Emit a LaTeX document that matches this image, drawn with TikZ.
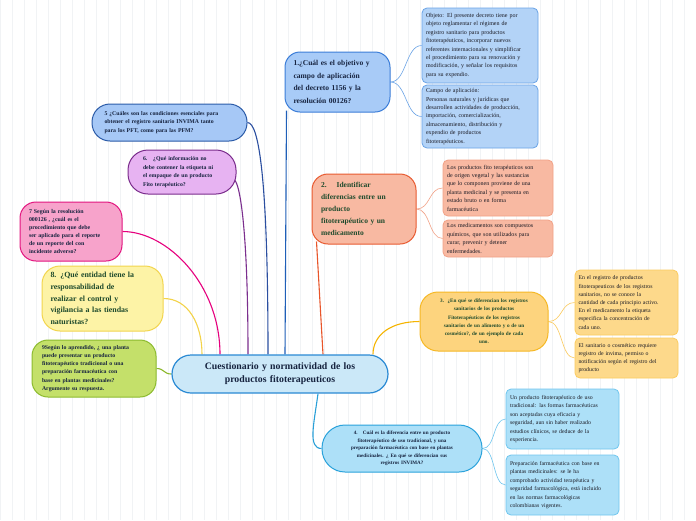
\documentclass[tikz,border=0pt]{standalone}
\usepackage{fontspec}
\setmainfont{Liberation Serif}
\usetikzlibrary{calc}
\pgfdeclarelayer{gridl}\pgfdeclarelayer{linel}
\pgfsetlayers{gridl,linel,main}
\definecolor{gridc}{HTML}{F1F3F5}
\definecolor{txt}{HTML}{16233F}
\definecolor{txtb}{HTML}{1A1A24}
\definecolor{txtg}{HTML}{1E4A2C}
\definecolor{cF}{HTML}{CBE8F8}\definecolor{cD}{HTML}{2A8AD4}
\definecolor{aF}{HTML}{A8CBF7}\definecolor{aD}{HTML}{3B7DD8}
\definecolor{abF}{HTML}{B3D3F7}\definecolor{abD}{HTML}{6AA3E6}
\definecolor{fF}{HTML}{A6C8F6}\definecolor{fD}{HTML}{2B5BA8}
\definecolor{sF}{HTML}{E7B3F2}\definecolor{sD}{HTML}{7A2C8C}
\definecolor{pF}{HTML}{F7A3CB}\definecolor{pD}{HTML}{E2157F}
\definecolor{yF}{HTML}{FDF3A6}\definecolor{yD}{HTML}{F2D54E}
\definecolor{gF}{HTML}{C4E06A}\definecolor{gD}{HTML}{8CBB2E}
\definecolor{oF}{HTML}{F8B9A2}\definecolor{oD}{HTML}{E85A30}\definecolor{obD}{HTML}{F2A287}
\definecolor{qF}{HTML}{FDD47E}\definecolor{qD}{HTML}{F6B825}
\definecolor{qbF}{HTML}{FDD98B}\definecolor{qbD}{HTML}{FBCB5F}
\definecolor{lF}{HTML}{ADE0F8}\definecolor{lD}{HTML}{2AA2DB}\definecolor{lbD}{HTML}{6FC6EE}
\definecolor{l1}{HTML}{1F5FB8}\definecolor{l5}{HTML}{2B4FA0}\definecolor{l6}{HTML}{7B2F8E}
\definecolor{l7}{HTML}{E6007E}\definecolor{l8}{HTML}{F3D34A}\definecolor{l9}{HTML}{8CB82C}
\definecolor{l2}{HTML}{E8552A}\definecolor{l3}{HTML}{F5B400}\definecolor{l4}{HTML}{2AA0D8}
\begin{document}
\begin{tikzpicture}[x=1pt,y=-1pt,
  qbox/.style={rectangle, line width=1pt, inner sep=3pt, align=left, text=txt},
  cbox/.style={rectangle, line width=0.8pt, rounded corners=5pt, inner sep=3pt, align=left, text=txtb,
     font=\fontsize{6}{8.4}\selectfont},
  conn/.style={line width=1.1pt},
  sub/.style={line width=0.6pt}]
\useasboundingbox (0,0) rectangle (696,520);
\begin{pgfonlayer}{gridl}
\fill[white] (0,0) rectangle (696,520);
\draw[gridc, line width=0.3pt, step=12] (0,0) grid (696,520);
\end{pgfonlayer}

% center
\node[qbox, fill=cF, draw=cD, line width=1.2pt, rounded corners=19pt, minimum width=216pt, minimum height=38pt,
  text width=200pt, align=center, font=\bfseries\fontsize{9.8}{13}\selectfont] (c) at (280,374)
  {Cuestionario y normatividad de los\\ productos fitoterapeuticos};

% node 1
\node[qbox, fill=aF, draw=aD, rounded corners=15pt, minimum width=105pt, minimum height=60pt,
  text width=88pt, font=\bfseries\fontsize{7.5}{12.5}\selectfont] (n1) at (337.5,82)
  {1.¿Cuál es el objetivo y\\ campo de aplicación\\ del decreto 1156 y la\\ resolución 00126?};
\node[cbox, fill=abF, draw=abD, minimum width=116pt, minimum height=75pt, text width=108pt] (b1a) at (480,45.5)
  {Objeto: El presente decreto tiene por\\ objeto reglamentar el régimen de\\ registro sanitario para productos\\ fitoterapéuticos, incorporar nuevos\\ referentes internacionales y simplificar\\ el procedimiento para su renovación y\\ modificación, y señalar los requisitos\\ para su expendio.};
\node[cbox, fill=abF, draw=abD, minimum width=116pt, minimum height=63pt, text width=108pt] (b1b) at (480,116.5)
  {Campo de aplicación:\\ Personas naturales y jurídicas que\\ desarrollen actividades de producción,\\ importación, comercialización,\\ almacenamiento, distribución y\\ expendio de productos\\ fitoterapéuticos.};

% node 5
\node[qbox, fill=fF, draw=fD, rounded corners=18pt, minimum width=155pt, minimum height=37pt,
  text width=130pt, font=\bfseries\fontsize{5.8}{8.8}\selectfont] (n5) at (169.5,122.5)
  {5 ¿Cuáles son las condiciones esenciales para\\ obtener el registro sanitario INVIMA tanto\\ para los PFT, como para las PFM?};

% node 6
\node[qbox, fill=sF, draw=sD, rounded corners=20pt, minimum width=108pt, minimum height=44pt,
  text width=78pt, font=\bfseries\fontsize{5.8}{8.4}\selectfont] (n6) at (182,172)
  {6.\ \ \ ¿Qué información no\\ debe contener la etiqueta ni\\ el empaque de un producto\\ Fito terapéutico?};

% node 7
\node[qbox, fill=pF, draw=pD, rounded corners=16pt, minimum width=102pt, minimum height=59pt,
  text width=84pt, font=\bfseries\fontsize{5.9}{8}\selectfont] (n7) at (71,231.5)
  {7 Según la resolución\\ 000126 , ¿cuál es el\\ procedimiento que debe\\ ser aplicado para el reporte\\ de un reporte del con\\ incidente adverso?};

% node 8
\node[qbox, fill=yF, draw=yD, rounded corners=18pt, minimum width=121pt, minimum height=65pt,
  text width=104pt, text=txtg, font=\bfseries\fontsize{7.9}{11.8}\selectfont] (n8) at (102.5,298.5)
  {8. ¿Qué entidad tiene la\\ responsabilidad de\\ realizar el control y\\ vigilancia a las tiendas\\ naturistas?};

% node 9
\node[qbox, fill=gF, draw=gD, rounded corners=16pt, minimum width=124pt, minimum height=57pt,
  text width=104pt, font=\bfseries\fontsize{5.8}{8.1}\selectfont] (n9) at (94,368.5)
  {9Según lo aprendido, ¿ una planta\\ puede presentar un producto\\ fitoterapéutico tradicional o una\\ preparación farmacéutica con\\ base en plantas medicinales?\\ Argumente su respuesta.};

% node 2
\node[qbox, fill=oF, draw=oD, rounded corners=16pt, minimum width=104pt, minimum height=70pt,
  text width=86pt, text=txtg, font=\bfseries\fontsize{7.5}{12}\selectfont] (n2) at (364,209)
  {2.\ \ \ \ Identificar\\ diferencias entre un\\ producto\\ fitoterapéutico y un\\ medicamento};
\node[cbox, fill=oF, draw=obD, minimum width=110pt, minimum height=56pt, text width=102pt] (b2a) at (498,188)
  {Los productos fito terapéuticos son\\ de origen vegetal y las sustancias\\ que lo componen proviene de una\\ planta medicinal y se presenta en\\ estado bruto o en forma\\ farmacéutica};
\node[cbox, fill=oF, draw=obD, minimum width=110pt, minimum height=37pt, text width=102pt] (b2b) at (498,238.5)
  {Los medicamentos son compuestos\\ químicos, que son utilizados para\\ curar, prevenir y detener\\ enfermedades.};

% node 3
\node[qbox, fill=qF, draw=qD, rounded corners=18pt, minimum width=128pt, minimum height=59pt,
  text width=118pt, align=center, text=txtg, font=\bfseries\fontsize{5.2}{8.2}\selectfont] (n3) at (484,321.5)
  {3.\ \ ¿En qué se diferencian los registros\\ sanitarios de los productos\\ Fitoterapéuticos de los registros\\ sanitarios de un alimento y o de un\\ cosmético?, de un ejemplo de cada\\ uno.};
\node[cbox, fill=qbF, draw=qbD, minimum width=103pt, minimum height=65pt, text width=96pt, font=\fontsize{5.8}{8.2}\selectfont] (b3a) at (626.5,302.5)
  {En el registro de productos\\ fitoterapeuticos de los registros\\ sanitarios, no se conoce la\\ cantidad de cada principio activo.\\ En el medicamento la etiqueta\\ especifica la concentración de\\ cada uno.};
\node[cbox, fill=qbF, draw=qbD, minimum width=103pt, minimum height=40pt, text width=96pt, font=\fontsize{5.8}{8.2}\selectfont] (b3b) at (626.5,358)
  {El sanitario o cosmético requiere\\ registro de invima, permiso o\\ notificación según el registro del\\ producto};

% node 4
\node[qbox, fill=lF, draw=lD, rounded corners=23pt, minimum width=160pt, minimum height=47pt,
  text width=130pt, align=center, font=\bfseries\fontsize{5.1}{7.6}\selectfont] (n4) at (402,448.5)
  {4.\ \ \ Cuál es la diferencia entre un producto\\ fitoterapéutico de uso tradicional, y una\\ preparación farmacéutica con base en plantas\\ medicinales. ¿ En qué se diferencian sus\\ registros INVIMA?};
\node[cbox, fill=lF, draw=lbD, minimum width=113pt, minimum height=60pt, text width=105pt, font=\fontsize{5.8}{8.4}\selectfont] (b4a) at (562.5,419)
  {Un producto fitoterapéutico de uso\\ tradicional: las formas farmacéuticas\\ son aceptadas cuya eficacia y\\ seguridad, aun sin haber realizado\\ estudios clínicos, se deduce de la\\ experiencia.};
\node[cbox, fill=lF, draw=lbD, minimum width=113pt, minimum height=60pt, text width=105pt, font=\fontsize{5.8}{8.4}\selectfont] (b4b) at (562.5,485)
  {Preparación farmacéutica con base en\\ plantas medicinales: se le ha\\ comprobado actividad terapéutica y\\ seguridad farmacológica, está incluido\\ en las normas farmacológicas\\ colombianas vigentes.};

\begin{pgfonlayer}{linel}
% main connectors
\draw[conn, l1] ($(c.north)+(5,0)$) -- ($(n1.south west)+(2,-2)$);
\draw[conn, l5] ($(c.north)+(-12,0)$) .. controls +(0,-170) and +(12,0) .. (n5.east);
\draw[conn, l6] ($(c.north)+(-32,0)$) .. controls +(0,-120) and +(6,5) .. ($(n6.east)+(-2,8)$);
\draw[conn, l7] ($(c.north)+(-60,0)$) .. controls +(0,-70) and +(45,0) .. (n7.east);
\draw[conn, l8] ($(c.north)+(-78,0)$) .. controls +(0,-30) and +(25,0) .. (n8.east);
\draw[conn, l9] (c.west) .. controls +(-8,0) and +(8,0) .. (n9.east);
\draw[conn, l2] ($(c.north)+(43,0)$) -- ($(n2.south west)+(5,-3)$);
\draw[conn, l3] ($(c.north)+(93,0)$) .. controls +(0,-20) and +(-28,0) .. (n3.west);
\draw[conn, l4] ($(c.south)+(38,0)$) .. controls +(-4,30) and +(-14,0) .. (n4.west);
% sub connectors
\foreach \b in {b1a,b1b} \draw[sub, abD] (n1.east) .. controls +(16,0) and +(-16,0) .. (\b.west);
\foreach \b in {b2a,b2b} \draw[sub, obD] (n2.east) .. controls +(14,0) and +(-14,0) .. (\b.west);
\foreach \b in {b3a,b3b} \draw[sub, qbD] (n3.east) .. controls +(14,0) and +(-14,0) .. (\b.west);
\foreach \b in {b4a,b4b} \draw[sub, lbD] (n4.east) .. controls +(13,0) and +(-13,0) .. (\b.west);
\end{pgfonlayer}
\end{tikzpicture}
\end{document}
